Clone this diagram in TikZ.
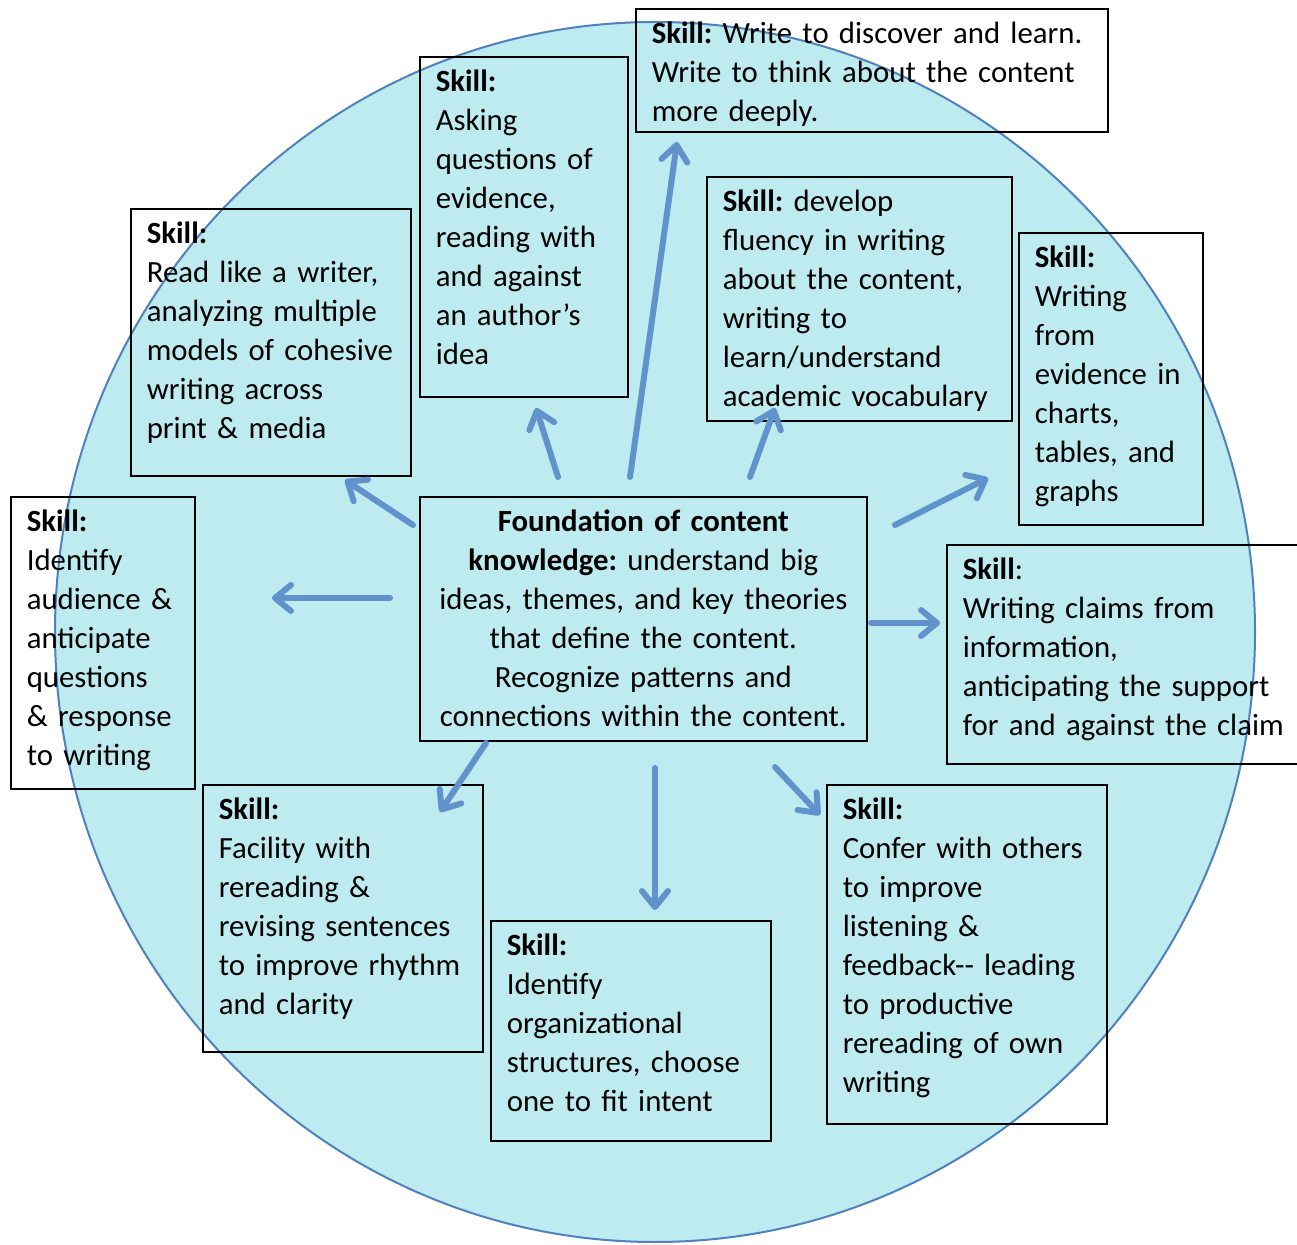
\documentclass[tikz,border=0pt]{standalone}
\usepackage{fontspec}
\setmainfont{Carlito}
\usetikzlibrary{arrows.meta}
\definecolor{ringfill}{RGB}{189,235,240}
\definecolor{ringline}{RGB}{79,129,189}
\definecolor{arrowblue}{RGB}{98,146,204}
\newcommand\skillfont{\fontsize{15.4}{19.5}\selectfont\frenchspacing\hyphenpenalty10000\relax}

\begin{document}
\begin{tikzpicture}[x=0.5pt, y=-0.5pt,
  skill/.style={draw, line width=0.8pt, anchor=north west, align=left,
    inner xsep=8pt, inner ysep=5.5pt, text height=12pt, font=\skillfont},
  flow/.style={draw=arrowblue, line width=3pt, line cap=round,
    -{Straight Barb[length=8pt, width=13pt, round]}}]
  \useasboundingbox (0,0) rectangle (1297,1245);
  \filldraw[fill=ringfill, draw=ringline, line width=1pt] (655,632) ellipse [x radius=300pt, y radius=305pt];

  \node[skill, text width=124pt, text depth=110.5pt] (read) at (130,208)
    {\textbf{Skill:}\\ Read like a writer,\\ analyzing multiple\\ models of cohesive\\ writing across\\ print \& media};
  \node[skill, text width=88pt, text depth=147pt] (ask) at (419,56)
    {\textbf{Skill:}\\ Asking\\ questions of\\ evidence,\\ reading with\\ and against\\ an author’s\\ idea};
  \node[skill, text width=220pt, text depth=38.5pt] (learn) at (635,8)
    {\textbf{Skill:} Write to discover and learn.\\ Write to think about the content\\ more deeply.};
  \node[skill, text width=136.5pt, text depth=99pt] (fluency) at (706,176)
    {\textbf{Skill:} develop\\ fluency in writing\\ about the content,\\ writing to\\ learn/understand\\ academic vocabulary};
  \node[skill, text width=76pt, text depth=123pt] (graphs) at (1018,232)
    {\textbf{Skill:}\\ Writing\\ from\\ evidence in\\ charts,\\ tables, and\\ graphs};
  \node[skill, text width=171pt, text depth=86.5pt] (claims) at (946,544)
    {\textbf{Skill}:\\ Writing claims from\\ information,\\ anticipating the support\\ for and against the claim};
  \node[skill, text width=76pt, text depth=123pt] (audience) at (10,496)
    {\textbf{Skill:}\\ Identify\\ audience \&\\ anticipate\\ questions\\ \& response\\ to writing};
  \node[skill, align=center, text width=207.5pt, text depth=99pt] (found) at (419,496)
    {\textbf{Foundation of content}\\ \textbf{knowledge:} understand big\\ ideas, themes, and key theories\\ that define the content.\\ Recognize patterns and\\ connections within the content.};
  \node[skill, text width=124pt, text depth=110.5pt] (revise) at (202,784)
    {\textbf{Skill:}\\ Facility with\\ rereading \&\\ revising sentences\\ to improve rhythm\\ and clarity};
  \node[skill, text width=124pt, text depth=87pt] (struct) at (490,920)
    {\textbf{Skill:}\\ Identify\\ organizational\\ structures, choose\\ one to fit intent};
  \node[skill, text width=124pt, text depth=146.5pt] (confer) at (826,784)
    {\textbf{Skill:}\\ Confer with others\\ to improve\\ listening \&\\ feedback-{}- leading\\ to productive\\ rereading of own\\ writing};

  % arrow ends
  \coordinate (read0) at (413,525);     \coordinate (read1) at (345,480);
  \coordinate (ask0) at (558,477);      \coordinate (ask1) at (536,408);
  \coordinate (learn0) at (630,477);    \coordinate (learn1) at (677,142);
  \coordinate (fluency0) at (750,477);  \coordinate (fluency1) at (775,408);
  \coordinate (graphs0) at (895,525);   \coordinate (graphs1) at (988,478);
  \coordinate (claims0) at (871,623);   \coordinate (claims1) at (940,623);
  \coordinate (confer0) at (775,767);   \coordinate (confer1) at (820,815);
  \coordinate (struct0) at (655,768);   \coordinate (struct1) at (655,910);
  \coordinate (revise0) at (486,743);   \coordinate (revise1) at (440,812);
  \coordinate (audience0) at (390,598); \coordinate (audience1) at (272,598);

  \draw[flow] (read0) -- (read1);
  \draw[flow] (ask0) -- (ask1);
  \draw[flow] (learn0) -- (learn1);
  \draw[flow] (fluency0) -- (fluency1);
  \draw[flow] (graphs0) -- (graphs1);
  \draw[flow] (claims0) -- (claims1);
  \draw[flow] (confer0) -- (confer1);
  \draw[flow] (struct0) -- (struct1);
  \draw[flow] (revise0) -- (revise1);
  \draw[flow] (audience0) -- (audience1);
\end{tikzpicture}
\end{document}
